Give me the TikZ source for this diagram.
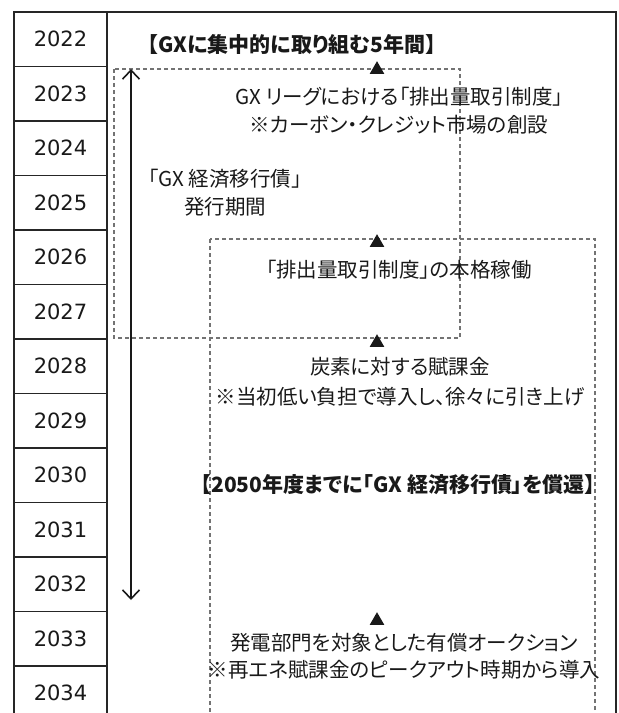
\documentclass[tikz,border=0pt]{standalone}
\usepackage{fontspec}
\setmainfont{Noto Sans CJK JP}[RawFeature=+palt]
\newfontfamily\yearfont{DejaVu Sans}
\usetikzlibrary{positioning,shapes.geometric,arrows.meta}

\begin{document}
\begin{tikzpicture}[x=1pt, y=-1pt,
                    year/.style={draw=black!85, line width=1.6pt, outer sep=0pt, inner sep=0pt, minimum width=93pt, minimum height=54.5pt, text=black!90, font=\yearfont\fontsize{21}{21}\selectfont},
                    frame/.style={draw=black!85, line width=1.8pt},
                    dashbox/.style={draw=black!55, line width=1.1pt, dash pattern=on 4pt off 3pt},
                    tri/.style={regular polygon, regular polygon sides=3, fill=black!90, inner sep=0pt, minimum size=17pt},
                    note/.style={align=center, text=black!90, font=\fontsize{20.5}{28}\selectfont},
                    headline/.style={align=center, text=black!90, font=\bfseries\fontsize{21}{24}\selectfont},
                    span/.style={{Straight Barb[length=9pt, width=17pt]}-{Straight Barb[length=9pt, width=17pt]}, line width=1.6pt, black!90},
                ]
                \useasboundingbox (0,0) rectangle (619,713);
                \clip (0,0) rectangle (619,713);
                %Years
                \node[year] (y2022) at (60.5,39.25)       {2022};
                \node[year] (y2023) [below=0 of y2022] {2023};
                \node[year] (y2024) [below=0 of y2023] {2024};
                \node[year] (y2025) [below=0 of y2024] {2025};
                \node[year] (y2026) [below=0 of y2025] {2026};
                \node[year] (y2027) [below=0 of y2026] {2027};
                \node[year] (y2028) [below=0 of y2027] {2028};
                \node[year] (y2029) [below=0 of y2028] {2029};
                \node[year] (y2030) [below=0 of y2029] {2030};
                \node[year] (y2031) [below=0 of y2030] {2031};
                \node[year] (y2032) [below=0 of y2031] {2032};
                \node[year] (y2033) [below=0 of y2032] {2033};
                \node[year] (y2034) [below=0 of y2033] {2034};
                %Frame and phases
                \draw[frame] (y2022.north east) -- (616,12) -- (616,730);
                \draw[dashbox] (114,69) rectangle (460,338);
                \draw[dashbox] (210,239) rectangle (595,730);
                %Bond period
                \coordinate (bondtop) at (131,69);
                \coordinate (bondend) at (131,600);
                \draw[span] (bondtop) -- (bondend);
                \node[note] (bond) at (225,193) {「GX 経済移行債」\\発行期間};
                %Headlines
                \node[headline] (focus)  at (292,44)  {【GXに集中的に取り組む5年間】};
                \node[headline] (redeem) at (398,485) {【2050年度までに「GX 経済移行債」を償還】};
                %Measures
                \node[tri] (t1) at (377,69.7)  {};
                \node[tri] (t2) at (377,242.7) {};
                \node[tri] (t3) at (377,342.7) {};
                \node[tri] (t4) at (377,620.7) {};
                \node[note] (league)  at (399,111) {GX リーグにおける「排出量取引制度」\\※カーボン・クレジット市場の創設};
                \node[note] (trading) at (399,270) {「排出量取引制度」の本格稼働};
                \node[note, font=\fontsize{20.5}{30}\selectfont] (levy) at (400,382) {炭素に対する賦課金\\※当初低い負担で導入し、徐々に引き上げ};
                \node[note, font=\fontsize{20.5}{27}\selectfont] (auction) at (404,656) {発電部門を対象とした有償オークション\\※再エネ賦課金のピークアウト時期から導入};
            \end{tikzpicture}
\end{document}
